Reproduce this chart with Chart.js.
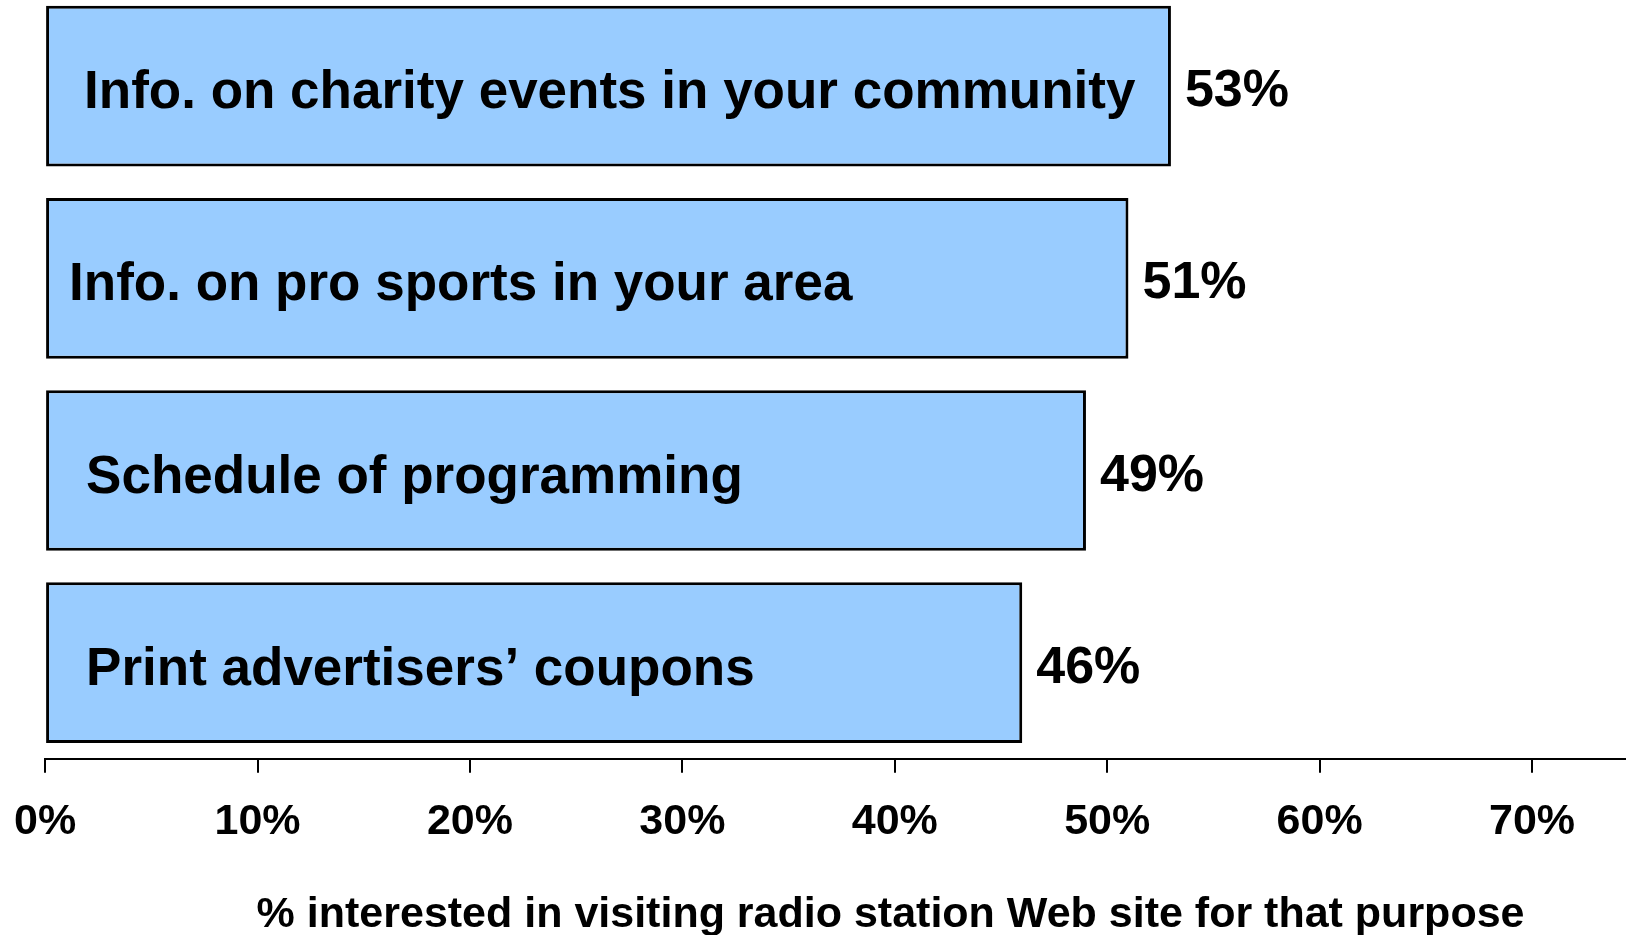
<!DOCTYPE html>
<html>
<head>
<meta charset="utf-8">
<script src="https://cdn.jsdelivr.net/npm/chart.js@4.4.0/dist/chart.umd.min.js"></script>
<style>
  html, body { margin: 0; padding: 0; background: #fff; overflow: hidden; width: 1626px; height: 935px; }
  #wrap { position: absolute; left: -10px; top: -10px; }
</style>
</head>
<body>
<div id="wrap"><canvas id="plot" width="1746" height="951"></canvas></div>
<script>
const categories = [
    'Info. on charity events in your community',
    'Info. on pro sports in your area',
    'Schedule of programming',
    'Print advertisers\u2019 coupons'
];
const interested = [53, 51, 49, 46];
const tickValues = [0, 10, 20, 30, 40, 50, 60, 70];
const axisTitle = '% interested in visiting radio station Web site for that purpose';

const FONT = 'Arial, "Liberation Sans", sans-serif';

// category text sits inside each bar, value text just past its end
const barText = {
    id: 'barText',
    afterDatasetsDraw(chart, args, opts) {
        const ctx = chart.ctx;
        const meta = chart.getDatasetMeta(0);
        const xScale = chart.scales.x;
        ctx.save();
        ctx.fillStyle = '#000';
        ctx.textBaseline = 'alphabetic';
        ctx.textAlign = 'left';
        meta.data.forEach(function(bar, i) {
            ctx.font = 'bold 53px ' + FONT;
            ctx.fillText(chart.data.labels[i], xScale.left + opts.insets[i], bar.y + 22);
            ctx.font = 'bold 52px ' + FONT;
            ctx.fillText(interested[i] + '%', bar.x + 14, bar.y + 20);
        });
        ctx.restore();
    }
};

const ctx = document.getElementById('plot').getContext('2d');
window.myChart = new Chart(ctx, {
    type: 'bar',
    data: {
        labels: categories,
        datasets: [{
            data: interested,
            backgroundColor: '#99CCFF',
            borderColor: '#000',
            borderWidth: 3,
            borderSkipped: false,
            categoryPercentage: 1,
            barPercentage: 0.836
        }]
    },
    options: {
        indexAxis: 'y',
        responsive: false,
        animation: false,
        layout: { padding: { left: 34, right: 0, top: 0, bottom: 0 } },
        plugins: {
            legend: { display: false },
            tooltip: { enabled: false },
            barText: { insets: [39, 24, 41, 41] }
        },
        scales: {
            y: { display: false },
            x: {
                min: 0,
                max: 79.6,
                afterBuildTicks: function(scale) {
                    scale.ticks = tickValues.map(v => ({ value: v }));
                },
                grid: {
                    drawOnChartArea: false,
                    drawTicks: true,
                    tickLength: 14,
                    color: '#000',
                    lineWidth: 2
                },
                border: { display: true, color: '#000', width: 2 },
                ticks: {
                    color: '#000',
                    padding: 24,
                    font: { family: FONT, size: 43, weight: 'bold' },
                    callback: v => v + '%'
                },
                title: {
                    display: true,
                    text: axisTitle,
                    color: '#000',
                    padding: { top: 17, bottom: 0 },
                    font: { family: FONT, size: 43, weight: 'bold' }
                }
            }
        }
    },
    plugins: [barText]
});
</script>
</body>
</html>
